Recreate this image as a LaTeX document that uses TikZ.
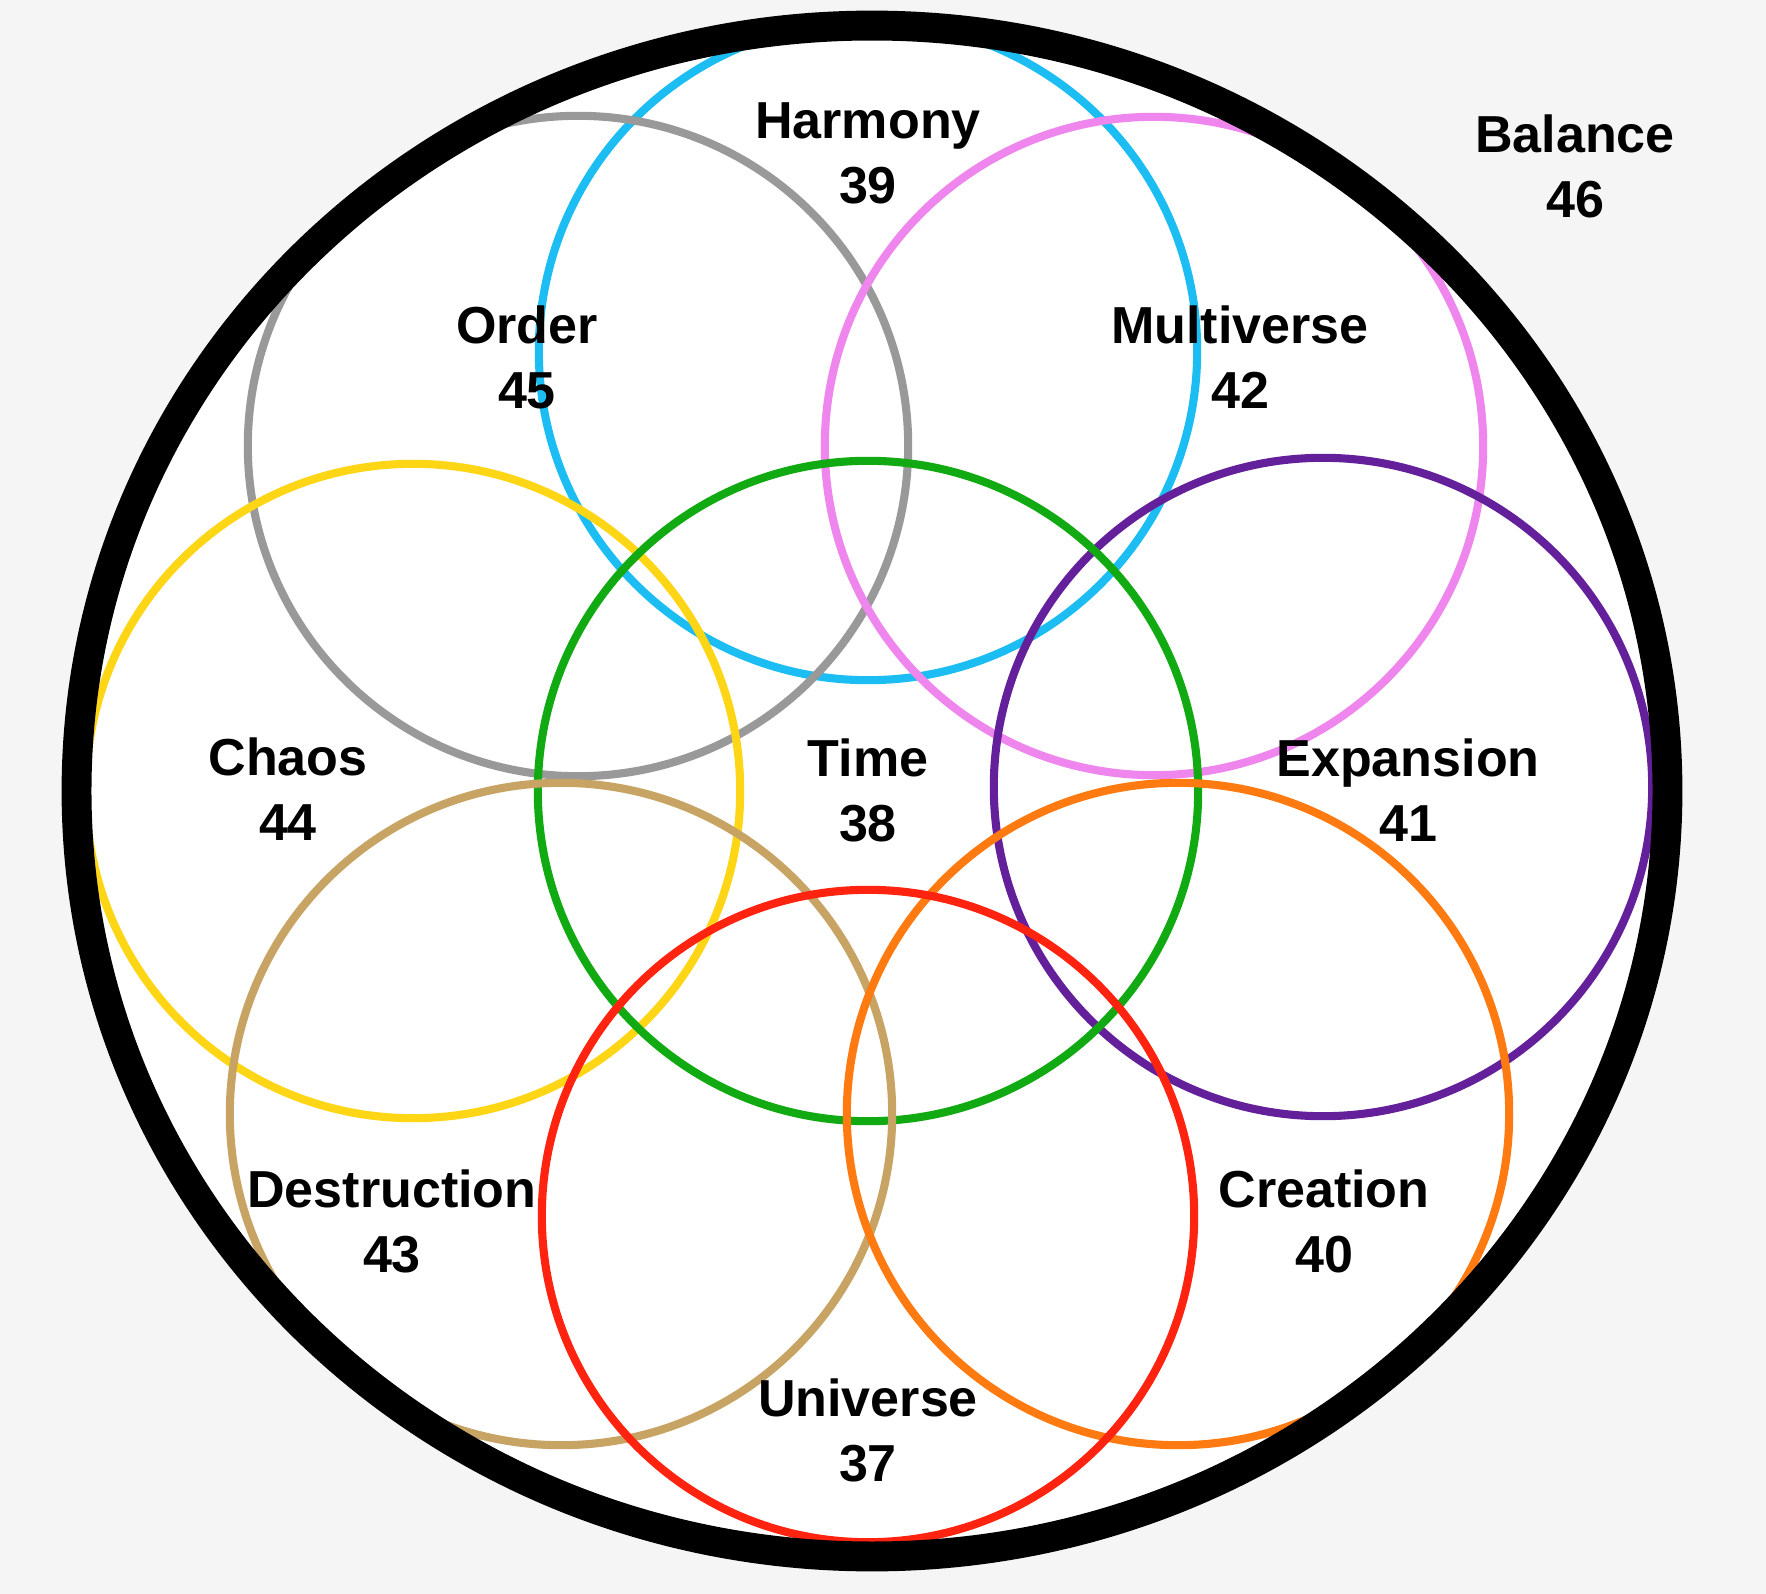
\documentclass[tikz,border=0pt]{standalone}
\usepackage{fontspec}
\setmainfont{Liberation Sans}
\begin{document}
\begin{tikzpicture}[x=0.01cm,y=-0.01cm,
  ring/.style={line width=2.3pt},
  lbl/.style={align=center,font=\fontsize{14.8}{18.5}\selectfont\bfseries,inner sep=0pt}]
\definecolor{bg}{HTML}{F5F5F5}
\definecolor{cblue}{HTML}{1CBDF2}
\definecolor{cpink}{HTML}{EE86EE}
\definecolor{cpurple}{HTML}{64209A}
\definecolor{corange}{HTML}{FF7A10}
\definecolor{cred}{HTML}{FF2310}
\definecolor{ctan}{HTML}{C8A464}
\definecolor{cyellow}{HTML}{FFD615}
\definecolor{cgray}{HTML}{999999}
\definecolor{cgreen}{HTML}{12AA12}
\fill[bg] (0,0) rectangle (1766,1594);
\useasboundingbox (0,0) rectangle (1766,1594);
\fill[white] (872,791) ellipse [x radius=7.95cm, y radius=7.65cm];
% rings
\draw[ring,cblue]   (868,351)  circle [radius=3.29cm];
\draw[ring,cgray]   (578,446)  circle [radius=3.30cm];
\draw[ring,cpink]   (1154,446) circle [radius=3.29cm];
\draw[ring,cyellow] (413,791)  circle [radius=3.27cm];
\draw[ring,cpurple] (1323,787) circle [radius=3.29cm];
\draw[ring,cgreen]  (868,791)  circle [radius=3.30cm];
\draw[ring,ctan]    (561,1114) circle [radius=3.31cm];
\draw[ring,corange] (1178,1114) circle [radius=3.31cm];
\draw[ring,cred]    (868,1216) circle [radius=3.26cm];
% outer ring
\draw[line width=8.5pt,black] (872,791) ellipse [x radius=7.95cm, y radius=7.65cm];
% labels
\node[lbl] (harmony) at (868,153) {Harmony\\39};
\node[lbl] (balance) at (1575,166) {Balance\\46};
\node[lbl] (order) at (527,357) {Order\\45};
\node[lbl] (multiverse) at (1240,357) {Multiverse\\42};
\node[lbl] (chaos) at (288,789) {Chaos\\44};
\node[lbl] (time) at (868,790) {Time\\38};
\node[lbl] (expansion) at (1408,790) {Expansion\\41};
\node[lbl] (destruction) at (392,1221) {Destruction\\43};
\node[lbl] (creation) at (1324,1221) {Creation\\40};
\node[lbl] (universe) at (868,1430) {Universe\\37};
\end{tikzpicture}
\end{document}
